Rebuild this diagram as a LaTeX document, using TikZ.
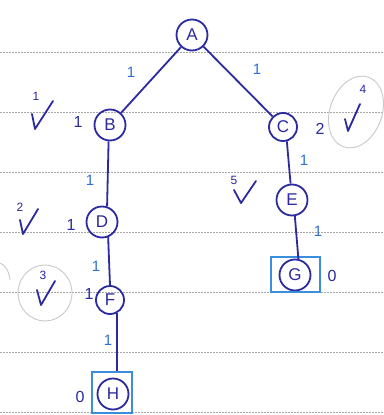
\documentclass[tikz,border=0pt]{standalone}
\usepackage{fontspec}
\setmainfont{Liberation Sans}
\definecolor{ink}{HTML}{2B2A9E}
\definecolor{weightblue}{HTML}{2F6FD6}
\definecolor{boxblue}{HTML}{3A8EDB}
\definecolor{ruled}{HTML}{A8A8A8}
\definecolor{pencil}{HTML}{C9C9C9}
\tikzset{
  vertex/.style={circle, draw=ink, line width=1.8pt, minimum size=31pt, inner sep=0pt,
    text=ink, font=\fontsize{17}{17}\selectfont},
  edgeline/.style={draw=ink, line width=1.8pt},
  weight/.style={text=weightblue, font=\fontsize{15}{15}\selectfont, inner sep=0pt},
  cost/.style={text=ink, font=\fontsize{16}{16}\selectfont, inner sep=0pt},
  order/.style={text=ink, font=\fontsize{12}{12}\selectfont, inner sep=0pt},
  tick/.style={draw=ink, line width=1.8pt, line cap=round, line join=round},
  goalbox/.style={draw=boxblue, line width=1.8pt, inner sep=0pt},
  rule/.style={draw=ruled, line width=0.9pt, dash pattern=on 1.5pt off 1.5pt},
  pencilring/.style={draw=pencil, line width=0.9pt}
}
\begin{document}
\begin{tikzpicture}[x=1pt, y=-1pt]
  \useasboundingbox (0,0) rectangle (383,415);
  \fill[white] (0,0) rectangle (383,415);

  % ruled lines of the page
  \foreach \yy in {52,112,172,232,292,352,412}
    \draw[rule] (0,\yy) -- (383,\yy);

  % pencil rings
  \draw[pencilring, rotate around={-20:(356,112)}] (356,112) ellipse (26 and 37);
  \draw[pencilring] (45,293) ellipse (27 and 28);
  \draw[pencilring] (0,263) .. controls (6,265) and (9,272) .. (10,280);

  % vertices
  \node[vertex] (A) at (192,35) {A};
  \node[vertex] (B) at (110,125) {B};
  \node[vertex, minimum size=28pt] (C) at (283,127) {C};
  \node[vertex] (D) at (102,222) {D};
  \node[vertex] (E) at (292,200) {E};
  \node[vertex] (G) at (295,275) {G};
  \node[vertex, minimum size=28pt] (F) at (110,300) {F};
  \node[vertex] (H) at (113,394) {H};

  % goal boxes
  \node[goalbox, minimum width=49pt, minimum height=35pt] (Gbox) at (295.5,274.5) {};
  \node[goalbox, minimum width=40pt, minimum height=41pt] (Hbox) at (112,392.5) {};

  % edges
  \draw[edgeline] (A) -- (B);
  \draw[edgeline] (A) -- (C);
  \draw[edgeline] (B.265) -- (D.72);
  \draw[edgeline] (D.-68) -- (F.north);
  \draw[edgeline] (F.-62) -- (Hbox.north -| F.-62);
  \draw[edgeline] (C.-75) -- (E.95);
  \draw[edgeline] (E.-80) -- (G.78);

  % edge weights
  \node[weight] (wAB) at (131,72) {1};
  \node[weight] (wAC) at (257,69) {1};
  \node[weight] (wBD) at (90,180) {1};
  \node[weight] (wDF) at (96,266) {1};
  \node[weight] (wFH) at (108,340) {1};
  \node[weight] (wCE) at (304,160) {1};
  \node[weight] (wEG) at (318,231) {1};

  % heuristic values
  \node[cost] (hB) at (78,122) {1};
  \node[cost] (hC) at (320,129) {2};
  \node[cost] (hD) at (71,225) {1};
  \node[cost] (hG) at (332,276) {0};
  \node[cost] (hF) at (89,294) {1};
  \node[cost] (hH) at (80,397) {0};

  % expansion order with ticks
  \node[order] (o1) at (36,96) {1};
  \draw[tick] (32,114) -- (35,129) -- (53,101);
  \node[order] (o4) at (363,89) {4};
  \draw[tick] (345,119) -- (348,131) -- (360,104);
  \node[order] (o2) at (20,207) {2};
  \draw[tick] (20,220) -- (23,234) -- (38,209);
  \node[order] (o5) at (234,180) {5};
  \draw[tick] (234,190) -- (241,203) -- (256,181);
  \node[order] (o3) at (43,275) {3};
  \draw[tick] (37,290) -- (41,305) -- (55,281);
\end{tikzpicture}
\end{document}
